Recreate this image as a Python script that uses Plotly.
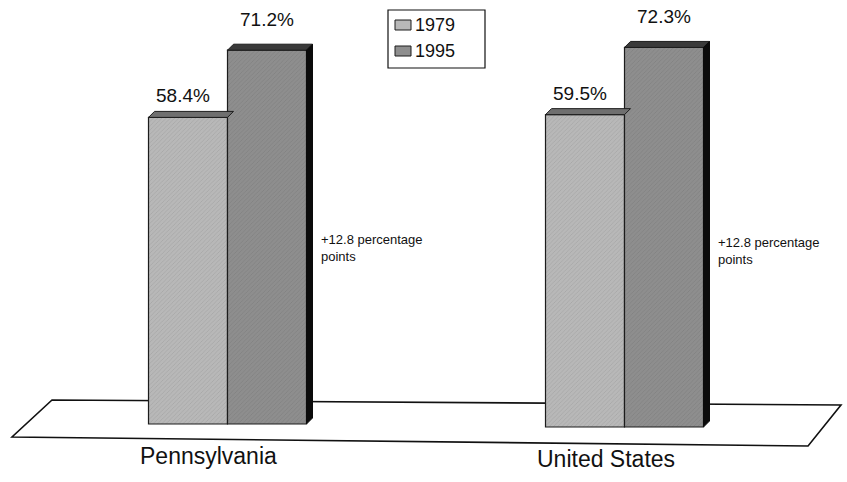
import plotly.graph_objects as go

# ---- data -------------------------------------------------------------
categories = ["Pennsylvania", "United States"]
years = ["1979", "1995"]
share_1979 = [58.4, 59.5]
share_1995 = [71.2, 72.3]
change_notes = ["+12.8 percentage<br>points", "+12.8 percentage<br>points"]

# ---- layout constants (pixels on an 847x482 canvas) -------------------
W, H = 847, 482
STEP_PX = 397.0      # distance between category centres
ORIGIN_X_PX = 227.5  # pixel column of the first category centre
UNIT_PX = 5.25       # pixels per percentage point
BASE_Y_PX = 424      # pixel row of the zero line

x_range = [-ORIGIN_X_PX / STEP_PX, (W - ORIGIN_X_PX) / STEP_PX]
y_range = [-(H - BASE_Y_PX) / UNIT_PX, BASE_Y_PX / UNIT_PX]

BAR_W = 79 / STEP_PX
DEPTH_X = 6 / STEP_PX
DEPTH_Y = 6 / UNIT_PX
SINK = [0.0, 3 / UNIT_PX]  # the tilted floor sits a little lower on the right

FONT = "Liberation Sans, Arial, Helvetica, sans-serif"
FRONT = {"1979": "#b8b8b8", "1995": "#8e8e8e"}
HATCH = {"1979": "#7a7a7a", "1995": "#5e5e5e"}
TOP = {"1979": "#6f6f6f", "1995": "#3a3a3a"}
SIDE = "#0b0b0b"
EDGE = "#1c1c1c"
INK = "#111111"


def paper(xp, yp):
    """Canvas pixel -> paper fraction."""
    return xp / W, 1 - yp / H


def path_of(points):
    return "M " + " L ".join(f"{a:.4f},{b:.4f}" for a, b in points) + " Z"


fig = go.Figure()

# floor slab drawn beneath the bars
floor = [paper(52, 400), paper(841, 405), paper(808, 446), paper(12, 437)]
fig.add_shape(type="path", path=path_of(floor), xref="paper", yref="paper",
              line=dict(color=INK, width=1.6), fillcolor="white", layer="below")

series = [("1979", share_1979, -BAR_W), ("1995", share_1995, 0.0)]
x_idx = list(range(len(categories)))

for name, vals, off in series:
    bases = [-s for s in SINK]
    fig.add_trace(go.Bar(
        x=x_idx, y=vals, base=bases, width=[BAR_W] * len(vals), offset=off,
        name=name, showlegend=False,
        marker=dict(color=FRONT[name], line=dict(color=EDGE, width=1.2),
                    pattern=dict(shape="/", fgcolor=HATCH[name],
                                 size=3, solidity=0.15, fillmode="overlay")),
        hoverinfo="skip",
    ))

# top faces and right-hand side faces give the bars their depth
for name, vals, off in series:
    for i, v in enumerate(vals):
        xl = i + off
        xr = xl + BAR_W
        top = v - SINK[i]
        base = -SINK[i]
        fig.add_trace(go.Scatter(
            x=[xl, xr, xr + DEPTH_X, xl + DEPTH_X, xl],
            y=[top, top, top + DEPTH_Y, top + DEPTH_Y, top],
            mode="lines", fill="toself", fillcolor=TOP[name],
            line=dict(color=EDGE, width=1), showlegend=False, hoverinfo="skip"))
        if name == "1995":
            fig.add_trace(go.Scatter(
                x=[xr, xr + DEPTH_X, xr + DEPTH_X, xr, xr],
                y=[base, base + DEPTH_Y, top + DEPTH_Y, top, base],
                mode="lines", fill="toself", fillcolor=SIDE,
                line=dict(color=SIDE, width=1), showlegend=False, hoverinfo="skip"))

# value labels above each bar
for name, vals, off in series:
    shift = 9 if name == "1979" else 18
    xs = -5 if name == "1979" else 0
    for i, v in enumerate(vals):
        fig.add_annotation(x=i + off + BAR_W / 2, y=v - SINK[i], text=f"{v:.1f}%",
                           showarrow=False, yanchor="bottom", yshift=shift, xshift=xs,
                           font=dict(family=FONT, size=19, color=INK))

# change notes beside the 1995 bars
for i, note in enumerate(change_notes):
    fig.add_annotation(x=i + BAR_W, y=33.6 - SINK[i], text=note, showarrow=False,
                       xanchor="left", yanchor="middle", xshift=12, align="left",
                       font=dict(family=FONT, size=13, color=INK))

# category names under the floor
for i, cat in enumerate(categories):
    fig.add_annotation(x=i, y=-6.1 - SINK[i], text=cat, showarrow=False,
                       xanchor="center", yanchor="middle", xshift=-19,
                       font=dict(family=FONT, size=23, color=INK))

# boxed key for the two years
fig.add_shape(type="rect", xref="paper", yref="paper",
              x0=388 / W, x1=485 / W, y0=1 - 68 / H, y1=1 - 10 / H,
              line=dict(color=INK, width=1.2), fillcolor="white")
for k, name in enumerate(years):
    cy = 25 + 26 * k
    fig.add_shape(type="rect", xref="paper", yref="paper",
                  x0=395 / W, x1=411 / W, y0=1 - (cy + 5) / H, y1=1 - (cy - 5) / H,
                  line=dict(color=EDGE, width=1), fillcolor=FRONT[name])
    fig.add_annotation(xref="paper", yref="paper", x=413 / W, y=1 - cy / H,
                       text=name, showarrow=False, xanchor="left", yanchor="middle",
                       font=dict(family=FONT, size=18, color=INK))

fig.update_layout(
    width=W, height=H,
    margin=dict(l=0, r=0, t=0, b=0),
    paper_bgcolor="white", plot_bgcolor="white",
    barmode="overlay",
    showlegend=False,
    xaxis=dict(range=x_range, visible=False, fixedrange=True),
    yaxis=dict(range=y_range, visible=False, fixedrange=True),
)

fig.write_html("out.html")
